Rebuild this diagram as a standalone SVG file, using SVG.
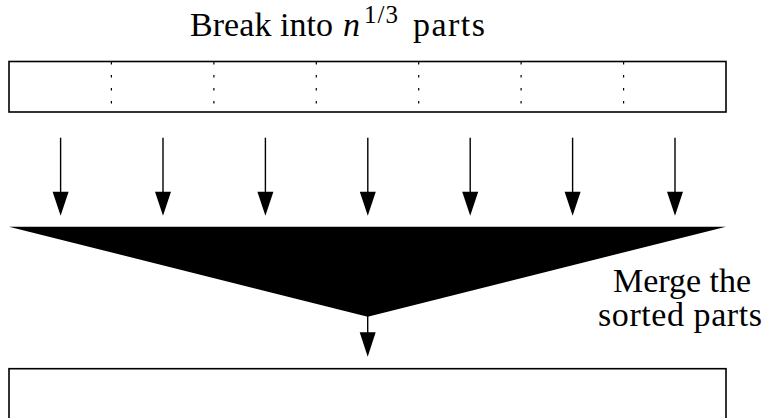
<svg xmlns="http://www.w3.org/2000/svg" width="767" height="418" viewBox="0 0 767 418">
<defs>
<style>
.t{font-family:"Liberation Serif","Times New Roman",serif;font-size:34px;fill:#000}
.box{fill:#fff;stroke:#000;stroke-width:1.6}
.div{stroke:#000;stroke-width:1.2;stroke-dasharray:2.5 10.5}
.ln{stroke:#000;stroke-width:1.4;fill:none}
.ah{fill:#000}
</style>
</defs>
<rect width="767" height="418" fill="#fff"/>
<g id="title">
<text class="t" y="36"><tspan x="190" textLength="143" lengthAdjust="spacing">Break into</tspan><tspan x="343" font-style="italic">n</tspan><tspan x="364" y="23" font-size="25" textLength="34" lengthAdjust="spacing">1/3</tspan><tspan x="413" y="36" textLength="72" lengthAdjust="spacing">parts</tspan></text>
</g>
<g id="input-array">
<rect class="box" x="9" y="61.5" width="717" height="50.5"/>
<line class="div" x1="111.4" y1="62" x2="111.4" y2="111"/>
<line class="div" x1="213.9" y1="62" x2="213.9" y2="111"/>
<line class="div" x1="316.3" y1="62" x2="316.3" y2="111"/>
<line class="div" x1="418.7" y1="62" x2="418.7" y2="111"/>
<line class="div" x1="521.1" y1="62" x2="521.1" y2="111"/>
<line class="div" x1="623.6" y1="62" x2="623.6" y2="111"/>
</g>
<g id="merge-funnel">
<polygon fill="#000" points="9,226.7 726,226.7 367.7,316.7"/>
</g>
<g id="merge-label">
<text class="t" x="613" y="292" textLength="138" lengthAdjust="spacing">Merge the</text>
<text class="t" x="598" y="326" textLength="164" lengthAdjust="spacing">sorted parts</text>
</g>
<g id="output-array">
<rect class="box" x="9" y="368.7" width="717" height="51"/>
</g>
<g id="connectors">
<line class="ln" x1="60.6" y1="137.7" x2="60.6" y2="193"/>
<polygon class="ah" points="52.6,191.7 68.6,191.7 60.6,215.7"/>
<line class="ln" x1="163" y1="137.7" x2="163" y2="193"/>
<polygon class="ah" points="155,191.7 171,191.7 163,215.7"/>
<line class="ln" x1="265.4" y1="137.7" x2="265.4" y2="193"/>
<polygon class="ah" points="257.4,191.7 273.4,191.7 265.4,215.7"/>
<line class="ln" x1="367.8" y1="137.7" x2="367.8" y2="193"/>
<polygon class="ah" points="359.8,191.7 375.8,191.7 367.8,215.7"/>
<line class="ln" x1="470.2" y1="137.7" x2="470.2" y2="193"/>
<polygon class="ah" points="462.2,191.7 478.2,191.7 470.2,215.7"/>
<line class="ln" x1="572.6" y1="137.7" x2="572.6" y2="193"/>
<polygon class="ah" points="564.6,191.7 580.6,191.7 572.6,215.7"/>
<line class="ln" x1="675" y1="137.7" x2="675" y2="193"/>
<polygon class="ah" points="667,191.7 683,191.7 675,215.7"/>
<line class="ln" x1="367.7" y1="316" x2="367.7" y2="333"/>
<polygon class="ah" points="359.7,332.3 375.7,332.3 367.7,356.7"/>
</g>
</svg>
